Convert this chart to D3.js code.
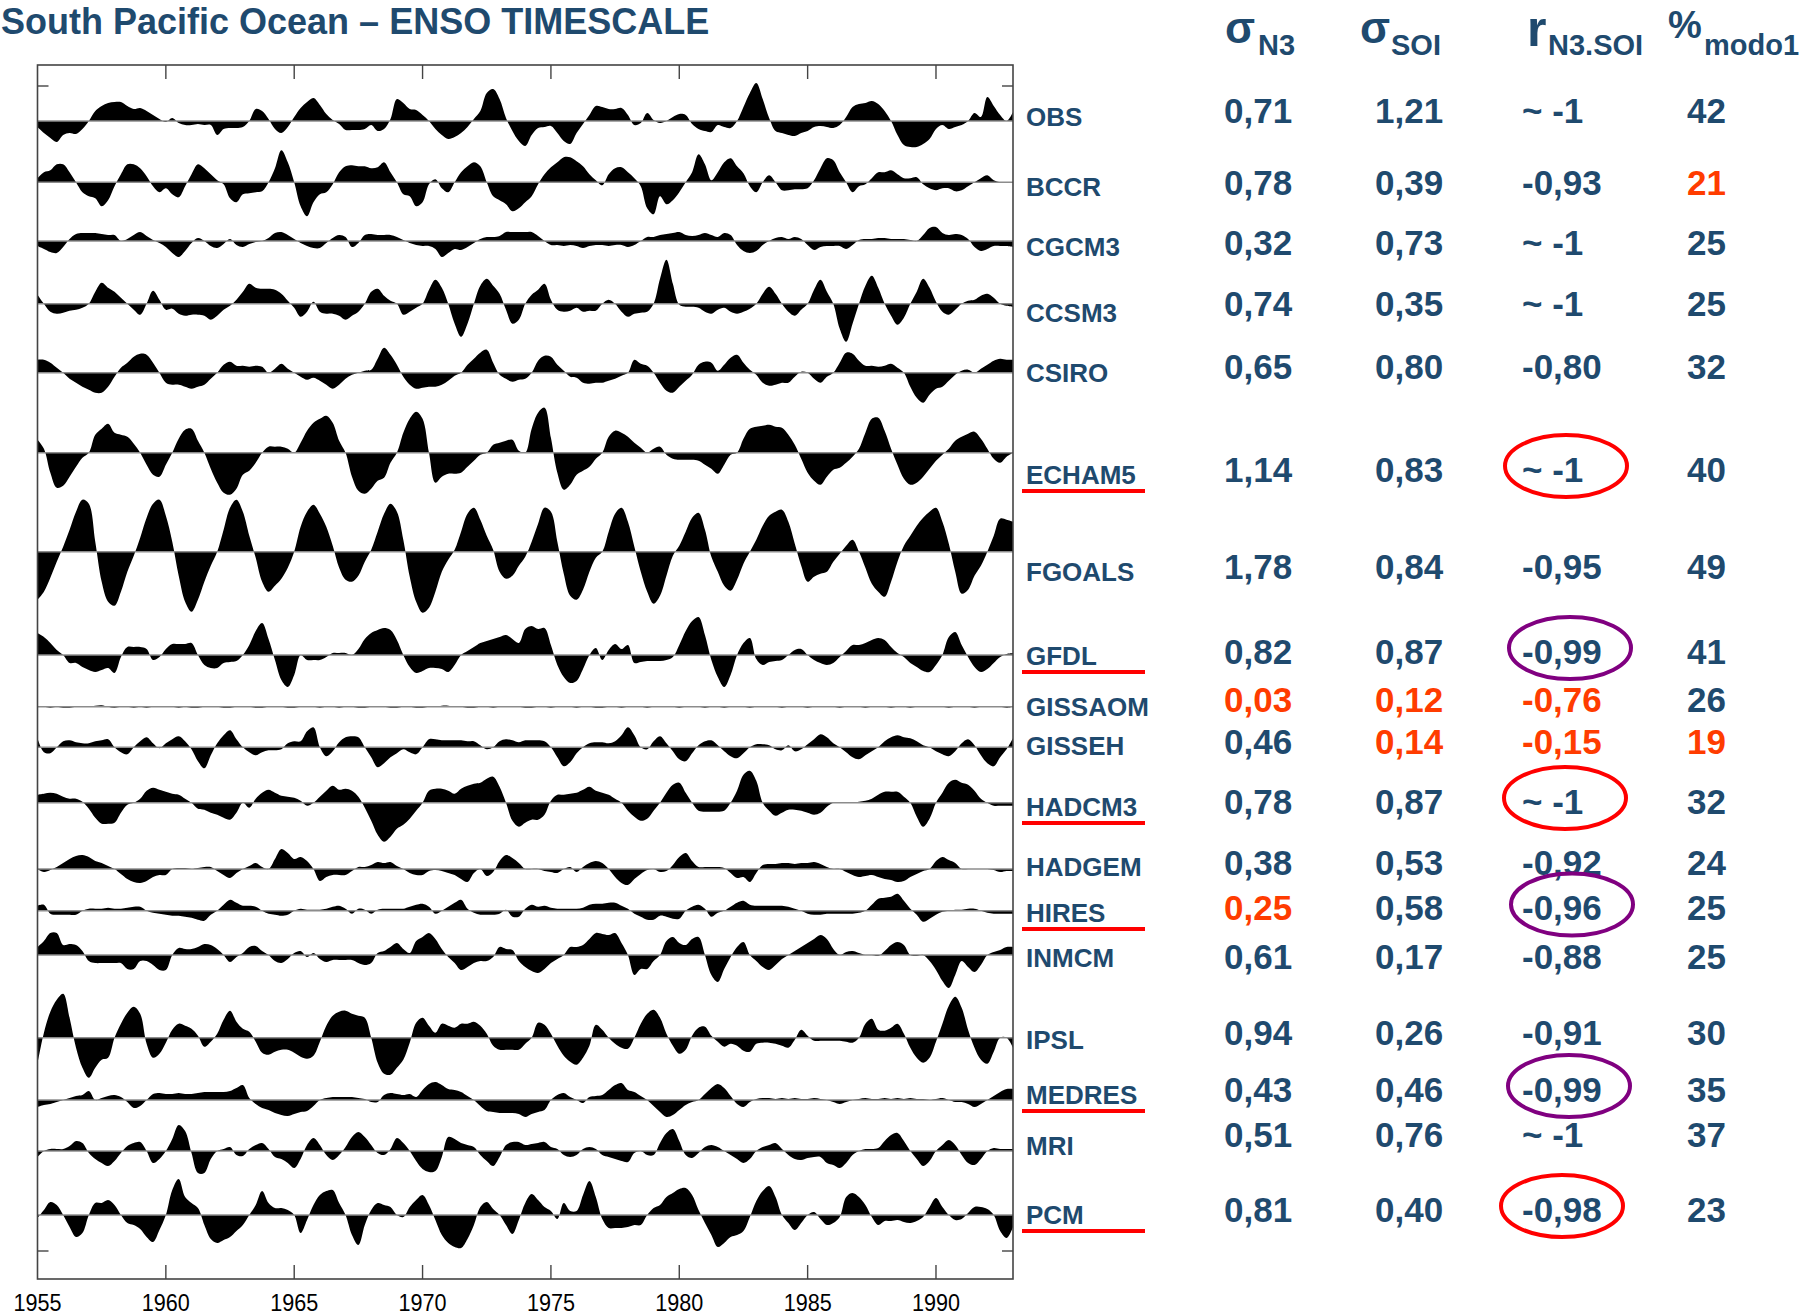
<!DOCTYPE html>
<html><head><meta charset="utf-8">
<script src="https://cdn.jsdelivr.net/npm/d3@7"></script>
<style>html,body{margin:0;padding:0;background:#fff;overflow:hidden}svg{display:block}</style>
</head><body><svg id="c" width="1818" height="1316"></svg>
<script>
// ---------------- DATA ----------------
const models = ["OBS","BCCR","CGCM3","CCSM3","CSIRO","ECHAM5","FGOALS","GFDL","GISSAOM","GISSEH","HADCM3","HADGEM","HIRES","INMCM","IPSL","MEDRES","MRI","PCM"];
const yearTicks = [1955,1960,1965,1970,1975,1980,1985,1990];
// quarterly samples 1955.00 ... 1993.00 (index anomaly, up = positive)
const years = d3.range(153).map(i => 1955 + i / 4);

const obs = [-6,-12,-17,-21, -14,-12,-13,-8, 0,10,15,18, 19,19,15,12, 13,10,6,2, -1,3,-2,-4, -4,-3,-4,-4, -14,-8,-7,-7, -6,0,12,10, 2,-8,-12,-6,
 4,13,19,23, 16,7,1,-3, -9,-9,-9,-8, -4,-10,-8,2, 22,18,12,11, 6,0,-8,-14, -18,-16,-12,-6, 2,10,28,32, 22,3,-10,-20, -25,-14,-7,-6,
 -5,-12,-20,-23, -12,-3,6,15, 14,12,12,13, 6,-4,-2,8, 1,-2,0,4, 7,6,-3,-8, -10,-11,-4,-6, -7,0,14,28, 38,22,3,-10, -12,-14,-15,-12,
 -10,-6,-5,-6, -7,-4,4,14, 17,18,20,17, 10,0,-14,-24, -26,-26,-23,-18, -8,-4,-8,-6, -4,0,8,4, 24,15,6,0, 9];
const bccr = [4,10,12,18, 18,10,0,-10, -14,-16,-24,-18, -4,8,18,18, 14,6,-4,-10, -6,-12,-15,-4, 8,18,14,8, 2,-2,-16,-20, -12,-11,-10,-9, 0,14,32,20,
 0,-24,-34,-20, -12,-10,-2,10, 16,17,16,16, 14,15,20,10, 0,-12,-14,-24, -20,-2,3,-6, -10,0,10,16, 20,16,0,-14, -18,-22,-29,-26, -20,-14,-2,8,
 15,20,25,25, 21,16,8,2, -3,8,14,15, 10,4,-4,-26, -32,-14,-22,-18, -10,0,10,28, 18,2,10,20, 24,16,9,-4, -10,0,7,0, -8,-8,-7,-7,
 -6,2,14,24, 22,10,0,-10, -4,-2,4,10, 10,12,8,4, 4,5,-2,-6, -8,-6,-6,-9, -8,-4,0,4, 7,2,0,0, 0];
const cgcm3 = [-5,-8,-11,-12, -6,2,7,8, 8,8,7,6, 6,0,2,6, 9,5,1,-2, -6,-12,-16,-10, -2,3,0,-5, -7,-3,2,-4, -6,-3,-1,0, 3,8,9,6,
 2,-2,-5,-7, -7,-2,3,6, 4,-6,-2,6, 7,6,6,6, 4,1,-2,-4, -5,-5,-8,-16, -12,-8,-9,-6, -2,2,4,4, 5,9,9,9, 9,9,5,0,
 -4,-4,-5,-4, -5,-7,-5,-4, -4,-5,-4,-4, -6,-4,0,4, 4,6,7,8, 9,6,5,6, 8,6,4,8, 6,-4,-10,-12, -10,-4,0,3, 4,2,4,2,
 -4,-9,-6,-5, -5,-5,-8,-4, 1,2,2,3, 3,2,2,2, 1,0,6,13, 14,8,6,7, 6,2,-6,-10, -8,-5,-5,-5, -6];
const ccsm3 = [9,0,-8,-10, -9,-7,-6,-4, 0,12,21,16, 12,6,0,-6, -11,0,13,4, -6,-5,-10,-12, -11,-11,-12,-16, -12,-6,-2,4, 12,20,16,15, 15,14,10,3,
 -4,-13,-8,2, -8,-10,-10,-12, -16,-12,-8,0, 12,15,8,3, 0,-11,-8,-4, 0,14,24,16, 0,-20,-33,-20, 0,18,25,18, 10,-6,-20,-16, 0,9,14,20,
 4,-6,-8,-7, -4,-8,-7,-7, 0,4,0,-8, -13,-10,-9,-8, 0,25,44,20, -1,-3,-3,-4, -8,-10,-6,-4, -8,-10,-8,-5, 0,10,17,10, 0,-8,-12,-6,
 0,14,24,12, 0,-25,-38,-20, 0,18,28,16, 0,-12,-21,-14, 0,12,25,16, 2,-8,-11,-6, 0,3,4,8, 10,6,0,-2, -3];
const csiro = [13,13,10,5, 0,-6,-10,-14, -17,-20,-20,-14, -4,5,10,16, 19,18,10,0, -10,-12,-12,-14, -16,-14,-12,-6, 0,8,11,7, 7,6,7,6, 0,4,9,4,
 0,-4,-7,-5, -8,-12,-16,-12, -6,-2,0,2, 3,14,25,18, 8,-4,-12,-16, -15,-14,-14,-12, -8,-3,0,8, 14,20,23,10, -2,-6,-9,-7, -6,0,12,17,
 16,8,2,-4, -5,-10,-11,-10, -10,-8,-6,-3, 0,13,9,7, 0,-10,-18,-20, -14,-8,-2,8, 11,10,2,8, 15,18,10,3, -2,-10,-13,-12, -10,-10,-4,1,
 0,-6,-10,-4, 0,10,20,19, 12,7,7,6, 7,9,5,0, -14,-25,-30,-22, -16,-14,-8,-2, 2,3,0,4, 8,12,14,13, 13];
const echam5 = [13,4,-20,-35, -33,-24,-14,-5, 0,18,24,29, 20,18,16,9, 0,-12,-22,-24, -12,0,14,23, 24,12,0,-16, -30,-40,-42,-36, -22,-18,-10,0, 6,6,6,4,
 0,10,22,30, 34,37,30,12, 0,-24,-38,-41, -36,-28,-25,-10, 0,20,34,41, 34,0,-30,-24, -21,-21,-20,-14, -8,-2,0,8, 10,12,13,2, 0,24,40,45,
 15,-20,-37,-32, -22,-18,-14,-6, 0,16,22,20, 16,10,5,0, 4,6,-2,-6, -7,-7,-7,-8, -12,-16,-21,-12, -2,0,14,24, 26,27,28,26, 25,18,8,-6,
 -20,-28,-32,-24, -17,-15,-10,-4, 4,20,34,35, 22,4,-12,-26, -32,-30,-24,-16, -8,-2,4,12, 16,19,21,14, 4,-6,-10,-4, 0];
const fgoals = [-48,-40,-26,-10, 5,22,40,52, 48,10,-30,-50, -54,-40,-20,-4, 14,34,48,52, 36,10,-24,-50, -60,-48,-30,-14, 0,22,44,52, 40,16,-6,-30, -40,-34,-27,-16,
 0,25,40,47, 38,25,6,-16, -28,-30,-24,-10, 2,20,38,48, 40,12,-25,-50, -61,-56,-40,-20, -8,2,20,38, 44,32,16,2, -20,-27,-24,-14, -5,10,28,44,
 40,10,-22,-44, -48,-38,-20,-6, 0,20,38,44, 30,5,-20,-40, -52,-44,-24,-4, 6,20,34,39, 22,-5,-20,-34, -39,-28,-12,0, 12,26,36,40, 42,30,8,-14,
 -30,-25,-22,-20, -10,-2,6,12, 0,-16,-32,-40, -45,-30,-10,6, 16,26,34,40, 44,30,8,-20, -42,-38,-24,-14, 0,16,33,32, 30];
const gfdl = [22,18,12,5, 0,-8,-8,-12, -15,-17,-15,-13, -18,-2,8,8, 8,6,-5,-2, 6,11,11,11, 12,0,-10,-13, -13,-8,-7,-6, 0,10,24,32, 16,-5,-25,-32,
 -20,0,-5,-5, -5,-2,2,2, 2,0,6,16, 22,25,27,25, 15,0,-12,-18, -16,-13,-13,-14, -17,-10,0,4, 8,12,14,16, 18,20,16,12, 26,29,26,27,
 10,-10,-22,-28, -26,-14,0,7, -5,5,11,6, 10,-8,-7,-6, -6,-6,-5,-2, 10,24,34,38, 20,-5,-22,-32, -20,0,12,17, -4,-10,-7,-6, -5,0,5,6,
 0,-5,-8,-10, -8,-2,4,10, 10,12,15,17, 15,8,2,-2, -8,-12,-16,-17, -10,0,18,23, 10,-2,-12,-17, -14,-8,-2,1, 2];
const gissaom = [0,0,-1,0, -1,-1,0,0, 0,1,1.5,0, -1,0,0,-1, 0,-1,0,0, 0,0,-1,0, -1,-1,0,0, 0,-1,-1,0, 0,0,-1,-1, 0,0,0,-1,
 -1,0,0,0, -1,0,0,-1, 0,0,-1,-1, 0,0,0,-1, -1,0,0,-1, -1,0,0,1, 1,0,0,-1, -1,0,0,-1, 0,0,0,0, -1,-1,0,0,
 -1,0,0,0, -1,0,0,-1, -1,0,0,-1, 0,0,0,-1, 0,0,0,0, -1,0,0,0, -1,0,0,-1, 0,0,0,-1, 0,0,0,0, -1,0,0,0,
 -1,0,0,0, 0,-1,0,0, 0,-1,0,0, 0,-1,0,0, -1,0,0,0, 0,0,-1,0, 0,0,-1,0, 0,0,0,-1, 0];
const gisseh = [9,-5,-6,0, 6,7,5,4, 4,6,7,8, 0,-5,-7,0, 6,10,4,-1, 4,8,11,6, -2,-14,-21,-8, 4,12,17,8, 0,-5,-8,-5, -3,-3,-2,4,
 6,6,16,20, 0,-9,-4,5, 10,11,10,0, -10,-20,-16,-10, -6,-2,-5,-7, 0,8,8,7, 7,7,7,6, 6,2,-2,0, 6,8,7,5, 7,7,7,6,
 0,-10,-19,-15, -6,0,4,5, 5,4,6,12, 20,12,0,-2, 6,11,4,-4, -12,-14,-6,2, 6,7,2,-4, -9,-11,-6,0, 3,3,2,-2, -3,2,-4,-2,
 3,8,13,10, 4,0,-5,-10, -12,-8,-4,0, 6,10,12,10, 9,6,2,0, -4,-7,-9,-4, 4,8,2,-8, -16,-19,-10,-2, 9];
const hadcm3 = [8,9,10,9, 6,4,4,1, -6,-15,-21,-21, -20,-10,-2,0, 4,12,15,13, 11,9,8,4, 0,-6,-7,-10, -12,-15,-17,-10, 0,-5,4,10, 13,10,7,6,
 5,2,-3,0, 6,12,17,13, 14,12,6,-5, -18,-32,-39,-34, -26,-22,-16,-8, 0,12,14,14, 12,9,14,17, 19,20,24,26, 16,0,-18,-24, -20,-17,-17,-12,
 2,8,8,9, 10,13,16,12, 10,8,4,0, -8,-14,-18,-16, -8,0,10,18, 20,10,0,-8, -9,-9,-9,-8, 0,12,28,32, 22,0,-8,-13, -10,-7,-7,-8,
 -10,-12,-10,-4, 0,0,0,0, 1,2,4,8, 11,11,11,6, 0,-14,-24,-16, 0,10,20,23, 20,18,12,4, 0,-3,-3,-3, -3];
const hadgem = [0,-3,-1,2, 6,10,13,14, 12,8,6,3, 0,-5,-10,-13, -14,-12,-8,-6, -6,0,1,1, 0,1,2,2, -2,-6,-9,-4, 0,3,6,2, 0,10,20,16,
 10,12,8,0, -12,-8,-6,-6, -6,-2,2,2, 4,7,6,7, 3,0,-4,-6, -6,-2,-1,-2, -4,-6,-10,-13, -4,0,-7,-3, 8,14,11,6, 0,0,0,-2,
 -3,-4,0,2, -3,2,6,8, 6,0,-8,-14, -16,-10,-5,-1, 0,-3,-2,4, 12,16,8,2, 2,2,2,1, -4,-9,-8,-13, -4,4,5,5, 6,6,5,6,
 6,7,5,2, 0,0,-3,-6, -8,-7,-6,-8, -10,-11,-13,-12, -8,-5,-2,0, 8,12,9,6, 0,0,0,0, 0,-1,-3,-2, -2];
const hires = [5,6,-3,-4, -4,-4,-4,0, 2,2,2,3, 2,2,3,4, 4,0,-2,-3, -4,-5,-5,-6, -7,-9,-10,-4, 0,6,11,8, 5,5,4,0, -3,-4,-5,-4,
 0,2,1,1, 1,2,4,5, 2,-3,2,1, -3,1,2,2, 2,2,4,6, 7,4,-3,0, 4,8,11,2, -2,-4,-4,-4, -3,1,-6,-6, 2,6,4,5,
 3,2,2,2, 2,3,6,7, 7,8,8,5, 2,-3,-6,-9, -9,-5,-6,-8, -8,0,4,6, 2,-6,-2,0, 4,8,10,6, 5,5,5,5, 5,4,2,0,
 -3,-4,-4,-3, -3,-3,-3,-3, -2,0,6,12, 13,14,17,10, 2,-4,-11,-8, -4,-1,0,1, 1,2,2,0, -2,-3,-3,-3, -3];
const inmcm = [8,14,22,22, 10,11,10,4, -6,-8,-8,-8, -8,-8,-14,-14, -6,-6,-10,-15, -15,0,7,6, 6,8,11,10, 6,0,-7,-2, 2,8,9,4, 0,-6,-8,-4,
 2,4,-2,2, -4,-7,-5,-5, -5,-5,-8,-10, -8,2,4,8, 12,6,2,14, 18,22,16,6, -2,-8,-15,-12, -8,-6,-6,-2, 8,6,5,-6, -12,-16,-18,-14,
 -8,-4,0,8, 8,10,16,22, 21,20,22,12, 0,-20,-14,-14, -6,0,14,18, 12,10,16,18, 0,-20,-27,-14, -2,8,13,0, -6,-12,-15,-10, -4,0,4,8,
 12,16,20,16, 6,0,3,4, 2,0,0,-1, 4,10,13,10, 0,-1,0,-6, -15,-26,-33,-20, -6,-12,-17,-10, 0,3,5,8, 8];
const ipsl = [-26,5,26,38, 44,20,-10,-30, -40,-30,-22,-20, 0,14,25,31, 24,-6,-20,-16, -5,8,14,12, 9,2,-9,-4, 4,18,27,16, 9,6,-4,-15, -17,-14,-12,-12,
 -15,-19,-21,-18, -4,12,22,26, 27,24,22,20, 0,-25,-36,-37, -30,-22,-5,15, 20,12,5,14, 12,10,14,14, 16,12,4,-8, -12,-12,-12,-12, -6,0,15,13,
 4,-8,-18,-24, -27,-20,-8,13, 8,0,-6,-10, -11,0,14,24, 28,20,4,-8, -16,-12,2,10, 11,2,-4,-9, -6,-8,-13,-14, -6,-5,-5,-6, -8,-10,-2,8,
 2,-3,-3,-3, -3,-3,-4,-5, 0,14,19,8, 7,10,14,4, -10,-20,-25,-20, -4,14,32,41, 30,8,-10,-22, -26,-14,0,0, -10];
const medres = [-7,-5,-4,-2, 0,2,4,5, 9,0,2,4, 5,3,-2,-8, -6,0,6,7, 6,6,7,6, 6,7,8,8, 8,8,9,12, 15,2,-4,-8, -10,-13,-15,-16,
 -14,-12,-11,-6, 0,2,3,3, 3,3,2,1, -2,-2,5,7, 6,5,6,3, 10,16,18,15, 11,10,8,4, 0,-6,-11,-12, -13,-13,-13,-14, -17,-14,-12,-10,
 0,5,7,3, 0,-3,3,4, 5,10,15,17, 10,8,4,0, -6,-12,-17,-15, -10,-5,-2,0, 6,12,16,12, 4,-4,-7,-2, 1,2,2,1, 2,1,2,1,
 1,2,1,0, -2,-4,-2,0, 1,2,1,1, 2,1,2,1, 2,1,1,0, 1,2,0,-2, -2,-4,-7,-4, 0,4,8,11, 11];
const mri = [-6,0,2,2, 2,5,10,8, -2,-8,-12,-15, -10,-2,5,8, 9,0,-12,-8, 0,12,26,20, -2,-22,-22,-8, 0,2,4,-4, -5,2,6,8, 2,-6,-8,-12,
 -17,-8,6,13, 6,-4,-9,-4, 4,14,19,14, 6,-2,-4,2, 13,8,0,-10, -18,-21,-20,-6, 14,12,8,6, 4,-4,-10,-15, -6,6,9,9, 6,7,8,9,
 4,2,-4,-6, -4,2,4,2, -4,-6,-8,-10, -11,-2,0,-4, -4,8,18,22, 10,-4,-7,-2, 4,6,4,0, -4,-8,-12,-8, 0,4,6,8, 2,-4,-8,-9,
 -7,-6,-6,-12, -14,-17,-12,-4, 0,2,2,3, 10,16,18,10, 0,-8,-15,-10, 0,6,11,6, -4,-12,-14,-8, 0,3,2,2, 2];
const pcm = [-3,5,13,10, 0,-12,-22,-18, 0,12,12,15, 10,0,-8,-10, -14,-22,-27,-15, 0,25,36,18, 12,7,-10,-24, -28,-25,-22,-16, -10,0,10,24, 12,7,7,5,
 0,-18,-5,10, 20,24,25,12, 0,-20,-30,-10, 5,12,10,8, 0,-2,8,15, 20,10,-5,-20, -28,-32,-33,-24, -10,8,13,6, 0,-10,-19,-5, 12,21,15,8,
 4,-4,12,4, 4,20,34,18, -4,-13,-13,-13, -12,-10,-10,0, 7,10,18,22, 26,27,20,5, -8,-20,-32,-28, -22,-20,-16,-2, 14,24,29,18, 0,-8,-15,-8,
 0,3,-4,-10, -8,-2,18,22, 18,10,-2,-10, -6,-6,-5,-7, -8,-6,-2,8, 17,8,0,-5, -4,2,8,8, 6,0,-16,-23, -12];

const seriesValues = [obs,bccr,cgcm3,ccsm3,csiro,echam5,fgoals,gfdl,gissaom,gisseh,hadcm3,hadgem,hires,inmcm,ipsl,medres,mri,pcm];

const sigmaN3  = [0.71,0.78,0.32,0.74,0.65,1.14,1.78,0.82,0.03,0.46,0.78,0.38,0.25,0.61,0.94,0.43,0.51,0.81];
const sigmaSOI = [1.21,0.39,0.73,0.35,0.80,0.83,0.84,0.87,0.12,0.14,0.87,0.53,0.58,0.17,0.26,0.46,0.76,0.40];
const rN3SOI   = [-1,-0.93,-1,-1,-0.80,-1,-0.95,-0.99,-0.76,-0.15,-1,-0.92,-0.96,-0.88,-0.91,-0.99,-1,-0.98]; // -1 shown as "~ -1"
const modo1    = [42,21,25,25,32,40,49,41,26,19,32,24,25,25,30,35,37,23];
// highlighted cells: [row, column]
const flagged  = [[1,3],[8,0],[8,1],[8,2],[9,1],[9,2],[9,3],[12,0]];
const underlined = ["ECHAM5","GFDL","HADCM3","HIRES","MEDRES","PCM"];
const circled = [["ECHAM5","red"],["GFDL","purple"],["HADCM3","red"],["HIRES","purple"],["MEDRES","purple"],["PCM","red"]];

// ---------------- LAYOUT ----------------
const plot = {left: 37.5, right: 1013, top: 65, bottom: 1279};
const baseY  = [121,182.3,241,303.7,372.7,452.7,551.7,655,706.7,747.3,802.7,869,910.7,955,1037.7,1100,1151,1215];
const labelY = [117,187,247,313,373,475,572,656,707,746,807,867,913,958,1040,1095,1146,1215];
const valueY = [110,182,242,303,366,469,566,651,699,741,801,862.5,907.5,956,1032.5,1089,1134,1209];
const colX = [1224,1375,1522,1687];
const navy = "#1f4a6e", orange = "#ff3c00";
const circleCol = {red:"#ff0000", purple:"#800080"};
const circleX = {ECHAM5:1566,GFDL:1570,HADCM3:1565,HIRES:1572,MEDRES:1569,PCM:1562};
const font = "Liberation Sans, Arial, sans-serif";

const svg = d3.select("#c");
const x = d3.scaleLinear().domain([1955, 1993]).range([plot.left, plot.right]);
const amp = d3.scaleLinear().domain([-10, 10]).range([10, -10]);

svg.append("defs").append("clipPath").attr("id","clip")
  .append("rect").attr("x",plot.left).attr("y",plot.top)
  .attr("width",plot.right-plot.left).attr("height",plot.bottom-plot.top);

// title
svg.append("text").attr("x",1).attr("y",33.5).attr("text-anchor","start")
  .attr("font-family",font).attr("font-weight","bold")
  .attr("font-size",36).attr("fill",navy)
  .text("South Pacific Ocean \u2013 ENSO TIMESCALE");

// series
const area = d3.area()
  .x((d,i) => x(years[i]))
  .y0(0)
  .y1(d => amp(d))
  .curve(d3.curveCatmullRom.alpha(0.5));

const gS = svg.append("g").attr("clip-path","url(#clip)");
seriesValues.forEach((vals, k) => {
  const g = gS.append("g").attr("transform",`translate(0,${baseY[k]})`);
  g.append("path").datum(vals).attr("d", area).attr("fill","#000");
  g.append("line").attr("x1",plot.left).attr("x2",plot.right).attr("y1",0).attr("y2",0)
    .attr("stroke","#8c8c8c").attr("stroke-width",1.6);
});

// frame
svg.append("rect").attr("x",plot.left).attr("y",plot.top)
  .attr("width",plot.right-plot.left).attr("height",plot.bottom-plot.top)
  .attr("fill","none").attr("stroke","#444").attr("stroke-width",1.6);

// x ticks (inward, top & bottom)
const inner = yearTicks.filter(t => t > 1955);
svg.selectAll(".tb").data(inner).join("line")
  .attr("x1",d=>x(d)).attr("x2",d=>x(d)).attr("y1",plot.bottom).attr("y2",plot.bottom-14)
  .attr("stroke","#444").attr("stroke-width",1.4);
svg.selectAll(".tt").data(inner).join("line")
  .attr("x1",d=>x(d)).attr("x2",d=>x(d)).attr("y1",plot.top).attr("y2",plot.top+14)
  .attr("stroke","#444").attr("stroke-width",1.4);
svg.selectAll(".tl").data(yearTicks).join("text")
  .attr("x",d=>x(d)).attr("y",1311).attr("text-anchor","middle")
  .attr("font-family",font).attr("font-size",24)
  .attr("textLength",48).attr("lengthAdjust","spacingAndGlyphs")
  .attr("fill","#000").text(d=>d);

// y ticks
[86,1251].forEach(yy => {
  svg.append("line").attr("x1",plot.left).attr("x2",plot.left+11).attr("y1",yy).attr("y2",yy)
    .attr("stroke","#444").attr("stroke-width",1.4);
  svg.append("line").attr("x1",plot.right).attr("x2",plot.right-11).attr("y1",yy).attr("y2",yy)
    .attr("stroke","#444").attr("stroke-width",1.4);
});

// labels
models.forEach((m,k) => {
  svg.append("text").attr("x",1026).attr("y",labelY[k]+9.3)
    .attr("font-family",font).attr("font-weight","bold").attr("font-size",26)
    .attr("fill",navy).text(m);
  if (underlined.includes(m)) {
    svg.append("line").attr("x1",1022).attr("x2",1145)
      .attr("y1",labelY[k]+16).attr("y2",labelY[k]+16)
      .attr("stroke","#ff0000").attr("stroke-width",4);
  }
});

// table header
function header(xs, main, mainSize, mainBase, sub, subX) {
  const t = svg.append("text").attr("font-family",font).attr("font-weight","bold").attr("fill",navy);
  t.append("tspan").attr("x",xs).attr("y",mainBase).attr("font-size",mainSize).text(main);
  t.append("tspan").attr("x",subX).attr("y",55).attr("font-size",29).text(sub);
}
header(1225,"\u03c3",44,43,"N3",1258);
header(1360,"\u03c3",44,43,"SOI",1391);
header(1527,"r",50,46,"N3.SOI",1548);
header(1668,"%",38,38,"modo1",1704);

// table values (hyphen-minus, comma decimal)
const fmt = v => d3.format(".2f")(v).replace("\u2212","-").replace(".", ",");
const cols = [sigmaN3, sigmaSOI, rN3SOI, modo1];
const colFmt = [fmt, fmt, v => v === -1 ? "~ -1" : fmt(v), v => String(v)];
models.forEach((m,k) => {
  cols.forEach((arr,c) => {
    const isFlag = flagged.some(f => f[0]===k && f[1]===c);
    svg.append("text").attr("x",colX[c]).attr("y",valueY[k]+12.5)
      .attr("font-family",font).attr("font-weight","bold").attr("font-size",35)
      .attr("fill", isFlag ? orange : navy).text(colFmt[c](arr[k]));
  });
});

// circles
circled.forEach(([m,col]) => {
  const k = models.indexOf(m);
  svg.append("ellipse").attr("cx",circleX[m]).attr("cy",valueY[k]-3)
    .attr("rx",61).attr("ry",31).attr("fill","none")
    .attr("stroke",circleCol[col]).attr("stroke-width",4);
});
</script></body></html>
